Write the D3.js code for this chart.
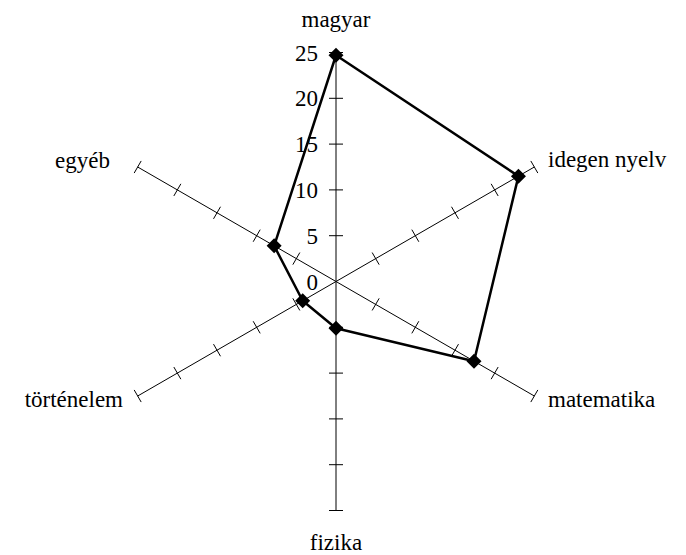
<!DOCTYPE html>
<html>
<head>
<meta charset="utf-8">
<script src="https://cdn.jsdelivr.net/npm/d3@7"></script>
<style>
  body { margin: 0; background: #fff; }
</style>
</head>
<body>
<div id="chart"></div>
<script>
var subjects = ["magyar", "idegen nyelv", "matematika", "fizika", "történelem", "egyéb"];
var values = [24.7, 23, 17.4, 5.1, 4.2, 7.8];
var tickValues = [0, 5, 10, 15, 20, 25];

var width = 686, height = 555;
var cx = 336, cy = 281.5;
var font = "'Times New Roman', 'Liberation Serif', Times, serif";

var svg = d3.select("#chart").append("svg")
    .attr("width", width)
    .attr("height", height);

var r = d3.scaleLinear().domain([0, 25]).range([0, 229]);

// angle for each axis, clockwise from top
function angle(i) { return i * 2 * Math.PI / subjects.length; }
function px(i, v) { return cx + r(v) * Math.sin(angle(i)); }
function py(i, v) { return cy - r(v) * Math.cos(angle(i)); }

var axes = svg.append("g").attr("class", "axes");

subjects.forEach(function(s, i) {
    axes.append("line")
        .attr("x1", cx).attr("y1", cy)
        .attr("x2", px(i, 25)).attr("y2", py(i, 25))
        .attr("stroke", "#000")
        .attr("stroke-width", 1);

    // tick marks perpendicular to the axis
    var a = angle(i), tl = 7;
    var ux = Math.cos(a), uy = Math.sin(a);
    tickValues.slice(1).forEach(function(t) {
        axes.append("line")
            .attr("x1", px(i, t) - ux * tl).attr("y1", py(i, t) - uy * tl)
            .attr("x2", px(i, t) + ux * tl).attr("y2", py(i, t) + uy * tl)
            .attr("stroke", "#000")
            .attr("stroke-width", 1);
    });
});

// value labels on the vertical axis
svg.selectAll("text.tick")
    .data(tickValues)
    .enter().append("text")
    .attr("class", "tick")
    .attr("x", cx - 18)
    .attr("y", function(d) { return cy - r(d); })
    .attr("dy", "0.35em")
    .attr("text-anchor", "end")
    .attr("font-family", font)
    .attr("font-size", 23)
    .text(function(d) { return d; });

// axis labels
var labelPos = [
    { x: cx, y: 27, anchor: "middle" },
    { x: 548, y: 167, anchor: "start" },
    { x: 548, y: 407, anchor: "start" },
    { x: cx, y: 550, anchor: "middle" },
    { x: 123, y: 407, anchor: "end" },
    { x: 110, y: 168, anchor: "end" }
];
svg.selectAll("text.label")
    .data(subjects)
    .enter().append("text")
    .attr("class", "label")
    .attr("x", function(d, i) { return labelPos[i].x; })
    .attr("y", function(d, i) { return labelPos[i].y; })
    .attr("text-anchor", function(d, i) { return labelPos[i].anchor; })
    .attr("font-family", font)
    .attr("font-size", 23)
    .text(function(d) { return d; });

// data polygon
var pts = values.map(function(v, i) { return [px(i, v), py(i, v)]; });
svg.append("path")
    .attr("d", d3.line()(pts.concat([pts[0]])))
    .attr("fill", "none")
    .attr("stroke", "#000")
    .attr("stroke-width", 2.5)
    .attr("stroke-linejoin", "round");

svg.selectAll("path.marker")
    .data(pts)
    .enter().append("path")
    .attr("class", "marker")
    .attr("transform", function(d) { return "translate(" + d[0] + "," + d[1] + ")"; })
    .attr("d", "M0,-7.5L7.5,0L0,7.5L-7.5,0Z")
    .attr("fill", "#000");
</script>
</body>
</html>
